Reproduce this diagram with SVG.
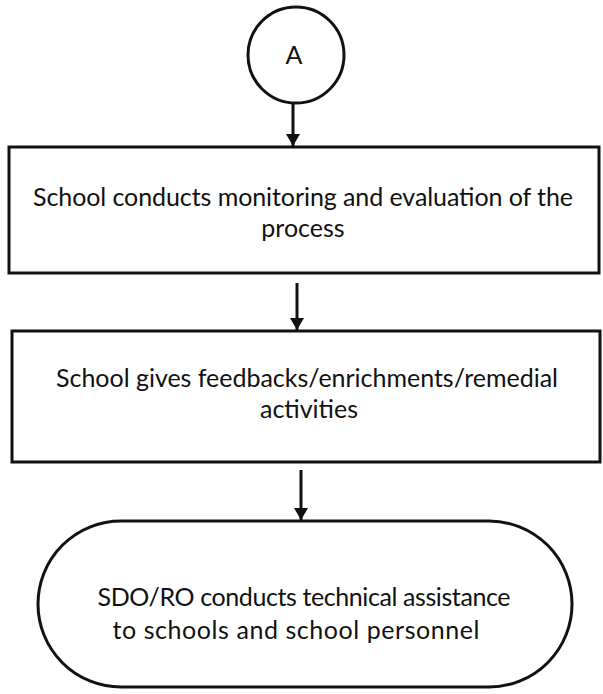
<svg xmlns="http://www.w3.org/2000/svg" width="603" height="694" viewBox="0 0 603 694">
<style>
.shape{fill:#fff;stroke:#111;stroke-width:3}
.lbl{font-family:Lato,"Open Sans","Liberation Sans",sans-serif;font-size:25px;fill:#111;text-anchor:middle}
.conn{stroke:#111;stroke-width:3;fill:none;marker-end:url(#ah)}
</style>
<defs>
<marker id="ah" viewBox="0 0 12 14" refX="12" refY="7" markerWidth="12" markerHeight="14" markerUnits="userSpaceOnUse" orient="auto">
<path d="M0,0 L12,7 L0,14 Z" fill="#111"/>
</marker>
</defs>
<rect width="603" height="694" fill="#fff"/>
<g id="connectors">
<line class="conn" x1="293" y1="103" x2="293" y2="146"/>
<line class="conn" x1="297" y1="283" x2="297" y2="330"/>
<line class="conn" x1="301" y1="470" x2="301" y2="520"/>
</g>
<g id="nodeA">
<circle class="shape" cx="296" cy="55" r="48"/>
<text class="lbl" x="294" y="64">A</text>
</g>
<g id="node1">
<rect class="shape" x="9" y="147" width="590" height="126"/>
<text class="lbl" x="303" y="206" textLength="540" lengthAdjust="spacing">School conducts monitoring and evaluation of the</text>
<text class="lbl" x="303" y="237">process</text>
</g>
<g id="node2">
<rect class="shape" x="12" y="331" width="588" height="131"/>
<text class="lbl" x="307" y="387" textLength="502" lengthAdjust="spacing">School gives feedbacks/enrichments/remedial</text>
<text class="lbl" x="309" y="418">activities</text>
</g>
<g id="node3">
<rect class="shape" x="38" y="521" width="534" height="166" rx="83" ry="83"/>
<text class="lbl" x="304" y="606" textLength="413" lengthAdjust="spacing">SDO/RO conducts technical assistance</text>
<text class="lbl" x="296" y="639" textLength="367" lengthAdjust="spacing">to schools and school personnel</text>
</g>
</svg>
